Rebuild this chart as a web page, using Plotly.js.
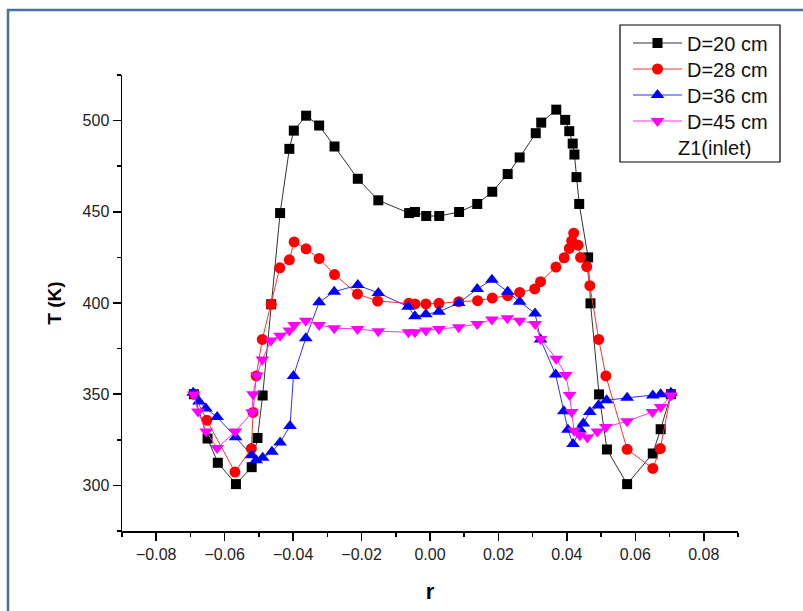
<!DOCTYPE html>
<html>
<head>
<meta charset="utf-8">
<script src="https://cdn.plot.ly/plotly-3.0.1.min.js"></script>
<style>html,body{margin:0;padding:0;background:#fff;}#chart{width:803px;height:611px;}</style>
</head>
<body>
<div id="chart"></div>
<script>
var names = ["D=20 cm", "D=28 cm", "D=36 cm", "D=45 cm"];
var noteText = "Z1(inlet)";

var xD20 = [-0.069, -0.065, -0.062, -0.0567, -0.0521, -0.0504, -0.0489, -0.0464, -0.0438, -0.0411, -0.0398, -0.0362, -0.0324, -0.0279, -0.0211, -0.0151, -0.0061, -0.0044, -0.0011, 0.0027, 0.0085, 0.0138, 0.0182, 0.0227, 0.0262, 0.0309, 0.0325, 0.0369, 0.0395, 0.0407, 0.0417, 0.0422, 0.0428, 0.0436, 0.0462, 0.0469, 0.0494, 0.0517, 0.0576, 0.0651, 0.0674, 0.0704];
var yD20 = [350, 325.7, 312.4, 300.7, 310, 326, 349.3, 399.3, 449.3, 484.5, 494.5, 502.7, 497.3, 485.8, 468.1, 456.3, 449.3, 449.9, 447.7, 447.7, 449.9, 454.3, 461, 470.7, 479.8, 493.1, 498.9, 506, 500.4, 494.2, 487.4, 481.4, 469, 454.3, 425, 399.8, 349.9, 319.7, 300.7, 317.5, 330.8, 350];

var xD28 = [-0.069, -0.0652, -0.057, -0.0522, -0.0517, -0.0508, -0.049, -0.0464, -0.0439, -0.0411, -0.0397, -0.0362, -0.0324, -0.0279, -0.0212, -0.0153, -0.0062, -0.0044, -0.0012, 0.0026, 0.0084, 0.0139, 0.0182, 0.0227, 0.0262, 0.0306, 0.0323, 0.0368, 0.0392, 0.0407, 0.0414, 0.042, 0.0433, 0.044, 0.0458, 0.0467, 0.0493, 0.0514, 0.0576, 0.0651, 0.0673, 0.0704];
var yD28 = [350, 335.7, 307.3, 320.2, 340, 360, 380, 399.3, 419.3, 423.7, 433.5, 429.7, 424.4, 415.6, 404.9, 401.1, 399.8, 399.5, 399.5, 399.8, 400.7, 401.3, 402.7, 404, 405.8, 407.7, 411.7, 419.7, 424.8, 429.9, 434, 438.3, 431.7, 425, 420, 409.5, 380, 360, 319.8, 309.3, 320.2, 350];

var xD36 = [-0.0692, -0.0675, -0.0655, -0.0622, -0.0568, -0.0521, -0.0508, -0.0489, -0.0462, -0.0438, -0.0409, -0.0399, -0.0363, -0.0324, -0.028, -0.0211, -0.0151, -0.0064, -0.0044, -0.0012, 0.0026, 0.0084, 0.0138, 0.0181, 0.0227, 0.0262, 0.0307, 0.0323, 0.0367, 0.0391, 0.0403, 0.0418, 0.0438, 0.0448, 0.0467, 0.0492, 0.0516, 0.0576, 0.0651, 0.0674, 0.0704];
var yD36 = [350.8, 346, 342.2, 337.5, 326.4, 316.5, 313.8, 315.1, 318.4, 323.5, 332.6, 360, 380.7, 400.4, 406.2, 409.8, 405.5, 398, 392.7, 393.8, 395.2, 400, 407.7, 412.7, 406.2, 400.7, 394.3, 380, 360.8, 340.7, 330.5, 322.7, 330.6, 334, 340.3, 343.8, 346.7, 348, 349.3, 350, 350.8];

var xD45 = [-0.069, -0.0678, -0.0654, -0.0622, -0.0569, -0.052, -0.0517, -0.0506, -0.049, -0.0465, -0.0438, -0.0411, -0.0397, -0.0363, -0.0324, -0.028, -0.0212, -0.0151, -0.0063, -0.0044, -0.0012, 0.0026, 0.0084, 0.0138, 0.0181, 0.0226, 0.0262, 0.0307, 0.0323, 0.0369, 0.0397, 0.0408, 0.0414, 0.0421, 0.0438, 0.046, 0.0489, 0.0514, 0.0576, 0.065, 0.0674, 0.0704];
var yD45 = [349.8, 340.5, 329.5, 320.5, 329.5, 340.1, 350, 360.3, 369, 379.4, 382.1, 384.9, 388, 390.3, 388, 386.2, 385.8, 384.5, 384, 384, 384.9, 385.8, 386.7, 388.5, 390.9, 391.7, 390.3, 388.5, 380.3, 369.4, 360.5, 349.5, 340.3, 330, 327.5, 326.3, 329.5, 332, 335.2, 340.3, 343, 349.3];

var xs = [xD20, xD28, xD36, xD45];
var ys = [yD20, yD28, yD36, yD45];
var colors = ["#000000", "#ff0000", "#0000ff", "#ff00ff"];
var lineColors = ["#333333", "#ff3030", "#3030ff", "#ff30ff"];
var symbols = ["square", "circle", "triangle-up", "triangle-down"];
var sizes = [10, 11, 12, 12];
var legendIds = ["legend", "legend2", "legend3", "legend4"];

var traces = names.map(function (n, i) {
  return {
    type: "scatter", mode: "lines+markers", name: n, legend: legendIds[i],
    x: xs[i], y: ys[i],
    line: {color: lineColors[i], width: 1},
    marker: {color: colors[i], symbol: symbols[i], size: sizes[i], line: {width: 0}}
  };
});

// plot area: x 122..738 px, y 75..531 px
var L = 122, R = 738, T = 75, B = 531;
function px(x) { return (x - L) / (R - L); }
function py(y) { return (B - y) / (B - T); }

var rowY = [43, 69, 95, 121];

var layout = {
  width: 803, height: 611,
  margin: {l: L, r: 803 - R, t: T, b: 611 - B},
  paper_bgcolor: "#ffffff", plot_bgcolor: "#ffffff",
  font: {family: "Liberation Sans, Arial, sans-serif", color: "#222"},
  showlegend: true,
  xaxis: {
    range: [-0.09, 0.09], dtick: 0.02, tick0: 0, tickformat: ".2f",
    showgrid: false, zeroline: false, showline: true, linecolor: "#000", linewidth: 1.5,
    ticks: "outside", ticklen: 8, tickwidth: 1.5, tickcolor: "#000",
    minor: {dtick: 0.01, ticks: "outside", ticklen: 4, tickwidth: 1.5, tickcolor: "#000"},
    tickfont: {size: 16, color: "#222"},
    title: {text: "r", font: {size: 22, color: "#000", weight: "bold"}, standoff: 22}
  },
  yaxis: {
    range: [275, 525], dtick: 50, tick0: 0,
    showgrid: false, zeroline: false, showline: true, linecolor: "#000", linewidth: 1.5,
    ticks: "outside", ticklen: 8, tickwidth: 1.5, tickcolor: "#000",
    minor: {dtick: 25, ticks: "outside", ticklen: 4, tickwidth: 1.5, tickcolor: "#000"},
    tickfont: {size: 16, color: "#222"},
    title: {text: "T (K)", font: {size: 19, color: "#000", weight: "bold"}, standoff: 16}
  },
  shapes: [
    {type: "rect", xref: "paper", yref: "paper", x0: px(620), x1: px(780), y0: py(162), y1: py(25),
     line: {color: "#000", width: 1.2}, fillcolor: "rgba(0,0,0,0)", layer: "above"},
    {type: "rect", xref: "paper", yref: "paper", x0: px(8), x1: px(830), y0: py(640), y1: py(10),
     line: {color: "#4a6fa5", width: 2.5}, fillcolor: "rgba(0,0,0,0)", layer: "below"}
  ],
  annotations: [
    {xref: "paper", yref: "paper", x: px(714), y: py(148), text: noteText, showarrow: false,
     xanchor: "center", yanchor: "middle", font: {size: 20, color: "#111"}}
  ]
};

legendIds.forEach(function (id, i) {
  layout[id] = {
    x: px(628), y: py(rowY[i]), xanchor: "left", yanchor: "middle",
    bgcolor: "rgba(0,0,0,0)", borderwidth: 0,
    font: {size: 20, color: "#111"}, itemwidth: 49
  };
});

Plotly.newPlot("chart", traces, layout, {displayModeBar: false, staticPlot: true});
</script>
</body>
</html>
